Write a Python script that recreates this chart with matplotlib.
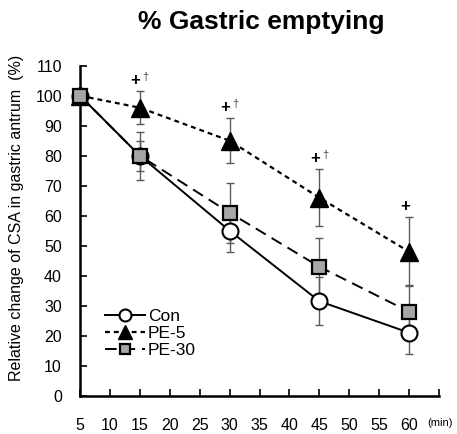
import matplotlib
matplotlib.use("Agg")
import matplotlib.pyplot as plt
from matplotlib.transforms import blended_transform_factory

# data
minutes = [5, 15, 30, 45, 60]
con_mean = [100, 80, 55, 31.5, 21]
con_sd = [0, 5, 7, 8, 7]
pe5_mean = [100, 96, 85, 66, 48]
pe5_sd = [0, 5.5, 7.5, 9.5, 11.5]
pe30_mean = [100, 80, 61, 43, 28]
pe30_sd = [0, 8, 10, 9.5, 9]
pe5_marks = ["", "+\u2020", "+\u2020", "+\u2020", "+"]

x_ticks = [5, 10, 15, 20, 25, 30, 35, 40, 45, 50, 55, 60, 65]
x_tick_labels = ["5", "10", "15", "20", "25", "30", "35", "40", "45", "50", "55", "60", ""]
y_ticks = list(range(0, 111, 10))

plt.rcParams["font.family"] = ["Liberation Sans", "DejaVu Sans"]

fig = plt.figure(figsize=(4.57, 4.34), dpi=100)
ax = fig.add_axes([80 / 457, 1 - 395.7 / 434, 359 / 457, 330 / 434])

err_kw = dict(fmt="none", ecolor="#5a5a5a", elinewidth=1.0, capsize=3, capthick=1.0, zorder=2)
ax.errorbar(minutes, con_mean, yerr=con_sd, **err_kw)
ax.errorbar(minutes, pe5_mean, yerr=pe5_sd, **err_kw)
ax.errorbar(minutes, pe30_mean, yerr=pe30_sd, **err_kw)

ax.plot(minutes, con_mean, color="black", lw=1.4, marker="o", ms=11.5,
        mfc="white", mec="black", mew=1.5, label="Con", zorder=4, clip_on=False)
ax.plot(minutes, pe5_mean, color="black", lw=1.6, ls=(0, (2.2, 1.8)), marker="^", ms=13,
        mfc="black", mec="black", label="PE-5", zorder=4, clip_on=False)
ax.plot(minutes, pe30_mean, color="black", lw=1.4, ls=(0, (6, 3.5)), marker="s", ms=10,
        mfc="#a6a6a6", mec="black", mew=1.6, label="PE-30", zorder=5, clip_on=False)

# significance marks above the PE-5 error bars
for m, mean, sd, mark in zip(minutes, pe5_mean, pe5_sd, pe5_marks):
    if not mark:
        continue
    ax.annotate("+", (m, mean + sd), xytext=(-3.2, 8), textcoords="offset points",
                ha="center", va="center", fontsize=12, fontweight="bold")
    if "\u2020" in mark:
        ax.annotate("\u2020", (m, mean + sd), xytext=(4.3, 10.5), textcoords="offset points",
                    ha="center", va="center", fontsize=8, color="#444444")

ax.set_xlim(5, 65)
ax.set_ylim(0, 110)
ax.set_xticks(x_ticks)
ax.set_xticklabels(x_tick_labels)
ax.set_yticks(y_ticks)
ax.tick_params(direction="in", length=5, width=1.2, labelsize=11.5)
ax.tick_params(axis="x", pad=16)
ax.tick_params(axis="y", pad=13)
for side in ["top", "right"]:
    ax.spines[side].set_visible(False)
for side in ["left", "bottom"]:
    ax.spines[side].set_linewidth(1.8)

trans = blended_transform_factory(ax.transData, ax.transAxes)
ax.text(63, -0.083, "(min)", transform=trans, fontsize=8, ha="left", va="center")

fig.text(17 / 457, 1 - 218 / 434, "Relative change of CSA in gastric antrum  (%)",
         rotation=90, ha="center", va="center", fontsize=11.5)
fig.text(261 / 457, 1 - 22 / 434, "% Gastric emptying", ha="center", va="center",
         fontsize=19, fontweight="bold")

ax.legend(loc="upper left", bbox_to_anchor=(0.07, 0.262), frameon=False, fontsize=12.5,
          handlelength=2.3, handletextpad=0.15, labelspacing=0.1, borderpad=0,
          borderaxespad=0, markerscale=0.75)

fig.savefig("out.png", dpi=100)
